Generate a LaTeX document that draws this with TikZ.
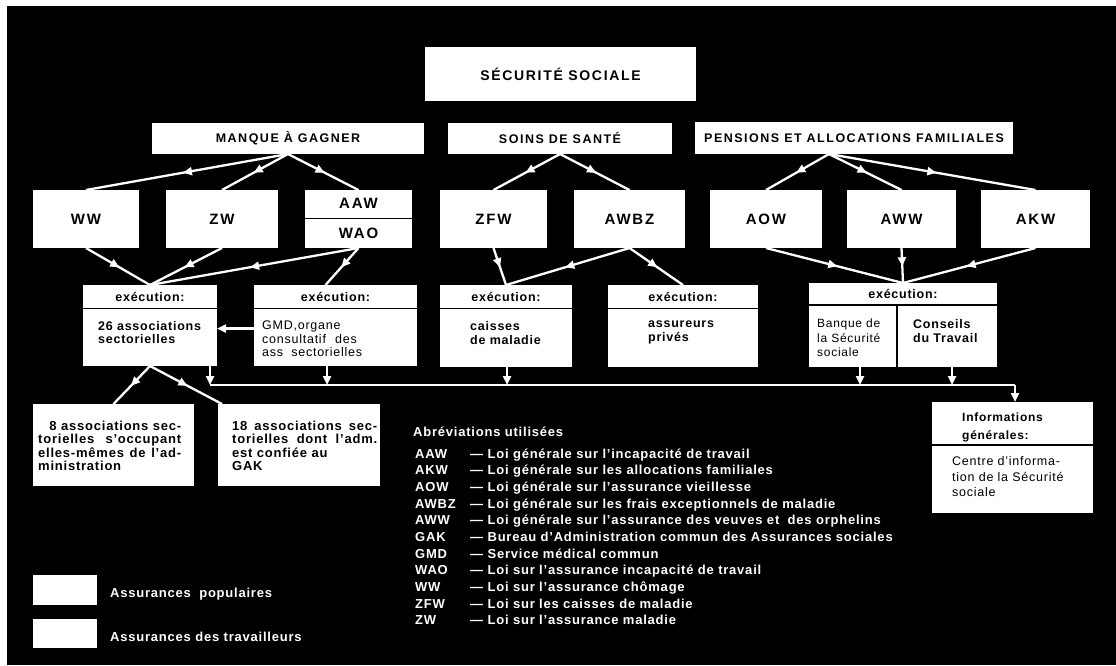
\documentclass[tikz,border=0pt]{standalone}
\usepackage{fontspec}
\setmainfont{Liberation Sans}
\newfontfamily\hv{Liberation Sans}[LetterSpace=12]
\newfontfamily\tx{Liberation Sans}[LetterSpace=6]
\usetikzlibrary{arrows.meta,decorations.markings,calc}
\begin{document}
\begin{tikzpicture}[x=1pt,y=-1pt,
  box/.style={fill=white,draw=none,inner sep=0pt,outer sep=0pt,text=black},
  ttl/.style={font=\hv\bfseries\fontsize{14}{16}\selectfont},
  hd/.style={font=\hv\bfseries\fontsize{12.5}{14}\selectfont},
  law/.style={font=\hv\bfseries\fontsize{15}{17}\selectfont},
  exh/.style={font=\tx\bfseries\fontsize{12.5}{14}\selectfont,anchor=base,inner sep=0pt},
  bodyb/.style={font=\tx\bfseries\fontsize{12}{13.5}\selectfont,anchor=north west,align=left,inner sep=0pt,text=black},
  bodyr/.style={font=\tx\fontsize{12}{13.5}\selectfont,anchor=north west,align=left,inner sep=0pt,text=black},
  wtxt/.style={font=\tx\bfseries\fontsize{13}{14}\selectfont,text=white,anchor=base west,inner sep=0pt},
  conn/.style={white,line width=2.3pt},
  midarrow/.style={conn,postaction={decorate},decoration={markings,mark=at position 0.52 with {\arrow[white]{Triangle[length=9pt,width=8pt]}}}},
  endarrow/.style={conn,-{Triangle[length=9pt,width=8pt]}},
  divider/.style={black,line width=1.5pt}]
\useasboundingbox (0,0) rectangle (1116,665);
\fill[white] (0,0) rectangle (1116,665);
\fill[black] (7,6) rectangle (1116,665);

% top
\node[box,ttl,minimum width=271pt,minimum height=54pt] (ss) at (560.5,74) {SÉCURITÉ SOCIALE};
\node[box,hd,minimum width=272pt,minimum height=31pt] (manque) at (288,138.5) {MANQUE À GAGNER};
\node[box,hd,minimum width=224pt,minimum height=31pt] (soins) at (560,138.5) {SOINS DE SANTÉ};
\node[box,hd,minimum width=318pt,minimum height=32pt] (pens) at (854,138) {PENSIONS ET ALLOCATIONS FAMILIALES};

% laws
\node[box,law,minimum width=106pt,minimum height=58pt] (ww) at (86,219) {WW};
\node[box,law,minimum width=112pt,minimum height=58pt] (zw) at (222,219) {ZW};
\node[box,law,minimum width=107pt,minimum height=27.5pt] (aaw) at (358.5,203.75) {AAW};
\node[box,law,minimum width=107pt,minimum height=29pt] (wao) at (358.5,233.5) {WAO};
\node[box,law,minimum width=107pt,minimum height=58pt] (zfw) at (493.5,219) {ZFW};
\node[box,law,minimum width=111pt,minimum height=58pt] (awbz) at (629.5,219) {AWBZ};
\node[box,law,minimum width=112pt,minimum height=58pt] (aow) at (766,219) {AOW};
\node[box,law,minimum width=109pt,minimum height=58pt] (aww) at (901.5,219) {AWW};
\node[box,law,minimum width=109pt,minimum height=58pt] (akw) at (1035.5,219) {AKW};

% execution boxes
\node[box,minimum width=134pt,minimum height=81pt] (e1) at (150,325.5) {};
\node[box,minimum width=163pt,minimum height=81pt] (e2) at (335.5,325.5) {};
\node[box,minimum width=132pt,minimum height=82pt] (e3) at (506,326) {};
\node[box,minimum width=150pt,minimum height=82pt] (e4) at (683,326) {};
\node[box,minimum width=188pt,minimum height=84pt] (e5) at (903,325) {};
\foreach \e in {e1,e2,e3,e4}{
  \draw[divider] ($(\e.north west)+(0,23.5)$) -- ($(\e.north east)+(0,23.5)$);
  \node[exh] (\e h) at ($(\e.north)+(0,16)$) {exécution:};
}
\draw[divider] ($(e5.north west)+(0,22)$) -- ($(e5.north east)+(0,22)$);
\node[exh] (e5h) at ($(e5.north)+(0,15)$) {exécution:};
\draw[divider] ($(e5.north west)+(88,22)$) -- ($(e5.south west)+(88,0)$);

\node[bodyb,font=\tx\bfseries\fontsize{12.5}{13.5}\selectfont] (e1b) at ($(e1.north west)+(15,36)$) {26 associations\\sectorielles};
\node[bodyr,font=\tx\fontsize{12.5}{13.5}\selectfont] (e2b) at ($(e2.north west)+(8,36)$) {GMD,organe\\consultatif\hspace{5pt} des\\ass\hspace{4pt} sectorielles};
\node[bodyb,font=\tx\bfseries\fontsize{12.5}{14}\selectfont] (e3b) at ($(e3.north west)+(30,36)$) {caisses\\de maladie};
\node[bodyb,font=\tx\bfseries\fontsize{12.5}{14}\selectfont] (e4b) at ($(e4.north west)+(40,36)$) {assureurs\\privés};
\node[bodyr,font=\tx\fontsize{12}{14.5}\selectfont] (e5b) at ($(e5.north west)+(8,36)$) {Banque de\\la Sécurité\\sociale};
\node[bodyb,font=\tx\bfseries\fontsize{12.5}{14.5}\selectfont] (e5c) at ($(e5.north west)+(104,36)$) {Conseils\\du Travail};

% bottom boxes
\node[box,minimum width=161pt,minimum height=82pt] (a8) at (113.5,445) {};
\node[box,minimum width=162pt,minimum height=82pt] (a18) at (299,445) {};
\node[bodyb,font=\tx\bfseries\fontsize{13}{13.5}\selectfont] (a8t) at ($(a8.north west)+(5,16.5)$) {\makebox[143pt][r]{8 associations sec-}\\\makebox[143pt][s]{torielles s’occupant}\\\makebox[143pt][s]{elles-mêmes de l’ad-}\\ministration};
\node[bodyb,font=\tx\bfseries\fontsize{13}{13.5}\selectfont] (a18t) at ($(a18.north west)+(14,16.5)$) {\makebox[145pt][s]{18 associations sec-}\\\makebox[145pt][s]{torielles dont l’adm.}\\est confiée au\\GAK};

% information box
\node[box,minimum width=161pt,minimum height=111pt] (info) at (1012.5,457.5) {};
\draw[divider] ($(info.north west)+(0,43)$) -- ($(info.north east)+(0,43)$);
\node[bodyb,font=\tx\bfseries\fontsize{12}{18}\selectfont] (infoh) at ($(info.north west)+(30,10.5)$) {Informations\\générales:};
\node[bodyr,font=\tx\fontsize{12.5}{15.5}\selectfont] (infob) at ($(info.north west)+(20,54.5)$) {Centre d’informa-\\tion de la Sécurité\\sociale};

% connectors top
\draw[midarrow] (manque.south) -- (ww.north);
\draw[midarrow] (manque.south) -- (zw.north);
\draw[midarrow] (manque.south) -- (aaw.north);
\draw[midarrow] (soins.south) -- (zfw.north);
\draw[midarrow] (soins.south) -- (awbz.north);
\draw[midarrow] ($(pens.south)+(-25,0)$) -- (aow.north);
\draw[midarrow] ($(pens.south)+(-25,0)$) -- (aww.north);
\draw[midarrow] ($(pens.south)+(-25,0)$) -- (akw.north);

\draw[midarrow] (ww.south) -- (e1.north);
\draw[midarrow] (zw.south) -- (e1.north);
\draw[midarrow] (wao.south) -- (e1.north);
\draw[midarrow] (wao.south) -- ($(e2.north)+(-10,0)$);
\draw[midarrow] (zfw.south) -- (e3.north);
\draw[midarrow] (awbz.south) -- (e3.north);
\draw[midarrow] (awbz.south) -- (e4.north);
\draw[midarrow] (aow.south) -- (e5.north);
\draw[midarrow] (aww.south) -- (e5.north);
\draw[midarrow] (akw.south) -- (e5.north);

\draw[endarrow] ($(e2.west)+(0,3)$) -- ($(e1.east)+(0,3)$);
\draw[midarrow] (e1.south) -- (a8.north);
\draw[midarrow] (e1.south) -- ($(a18.north west)+(4,0)$);

% bus
\coordinate (b1) at (210,385);
\coordinate (b2) at (327,385);
\coordinate (b3) at (507,385);
\coordinate (b4) at (860,385);
\coordinate (b5) at (952,385);
\coordinate (b6) at (1015,385);
\draw[conn] (b1) -- (b6);
\draw[endarrow] (b1 |- e1.south) -- (b1);
\draw[endarrow] (b2 |- e2.south) -- (b2);
\draw[endarrow] (b3 |- e3.south) -- (b3);
\draw[endarrow] (b4 |- e5.south) -- (b4);
\draw[endarrow] (b5 |- e5.south) -- (b5);
\draw[endarrow] (b6) -- (info.north -| b6);

% abbreviations
\node[wtxt] (abt) at (413,436.5) {Abréviations utilisées};
\foreach \k/\a/\d in {0/AAW/Loi générale sur l’incapacité de travail,
  1/AKW/Loi générale sur les allocations familiales,
  2/AOW/Loi générale sur l’assurance vieillesse,
  3/AWBZ/Loi générale sur les frais exceptionnels de maladie,
  4/AWW/Loi générale sur l’assurance des veuves et\hspace{4pt} des orphelins,
  5/GAK/Bureau d’Administration commun des Assurances sociales,
  6/GMD/Service médical commun,
  7/WAO/Loi sur l’assurance incapacité de travail,
  8/WW/Loi sur l’assurance chômage,
  9/ZFW/Loi sur les caisses de maladie,
  10/ZW/Loi sur l’assurance maladie}{
  \node[wtxt] (ab\k) at (415,458.2+16.65*\k) {\a};
  \node[wtxt] (df\k) at (470,458.2+16.65*\k) {— \d};
}

% legend
\node[box,minimum width=64pt,minimum height=30pt] (lp) at (65,590) {};
\node[box,minimum width=64pt,minimum height=29pt] (lt) at (65,633.5) {};
\node[wtxt] (lpt) at (110,597) {Assurances\hspace{4pt} populaires};
\node[wtxt] (ltt) at (110,641) {Assurances des travailleurs};
\end{tikzpicture}
\end{document}
